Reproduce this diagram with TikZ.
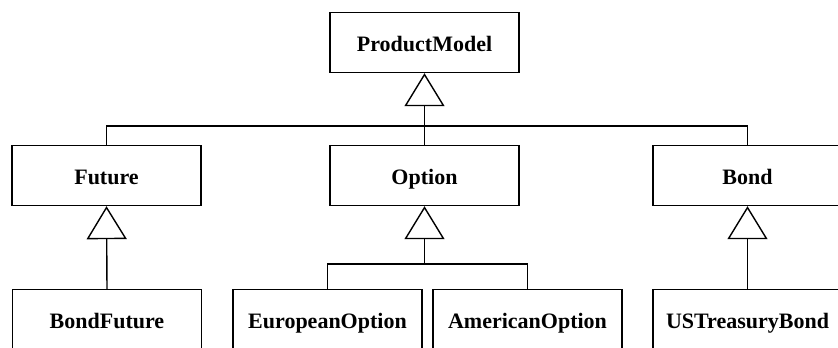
\documentclass[tikz,border=0pt]{standalone}
\usepackage{fontspec}
\setmainfont{Liberation Serif}
\usetikzlibrary{arrows.meta}
\begin{document}
\begin{tikzpicture}[x=1pt,y=1pt,
  cls/.style={draw, line width=1.4pt, minimum width=189pt, minimum height=60pt,
    inner sep=0pt, text height=18pt, text depth=0pt,
    font=\fontsize{22}{26}\selectfont\bfseries},
  link/.style={line width=1.4pt},
  inh/.style={link, -{Triangle[open, length=33pt, width=40pt, line width=1.4pt]}}]
\useasboundingbox (0,0) rectangle (838,348);
\clip (0,0) rectangle (838,348);
% class boxes
\node[cls] (pm)   at (424.5,305.5) {ProductModel};
\node[cls] (fut)  at (106.5,172.5) {Future};
\node[cls] (opt)  at (424.5,172.5) {Option};
\node[cls] (bond) at (747.5,172.5) {Bond};
\node[cls] (bf)   at (107,28.5)    {BondFuture};
\node[cls] (eur)  at (327.5,28.5)  {EuropeanOption};
\node[cls] (ame)  at (527.5,28.5)  {AmericanOption};
\node[cls] (ust)  at (747.5,28.5)  {USTreasuryBond};
% bus junctions
\coordinate (busA) at (424.5,222);
\coordinate (busB) at (424.5,84);
% generalisation links
\draw[inh] (opt.north) -- (pm.south);
\draw[link] (fut.north) |- (busA) -| (bond.north);
\draw[inh] (busB) -- (opt.south);
\draw[link] (eur.north) |- (busB) -| (ame.north);
\draw[inh] (bf.north) -- (fut.south);
\draw[inh] (ust.north) -- (bond.south);
\end{tikzpicture}
\end{document}
